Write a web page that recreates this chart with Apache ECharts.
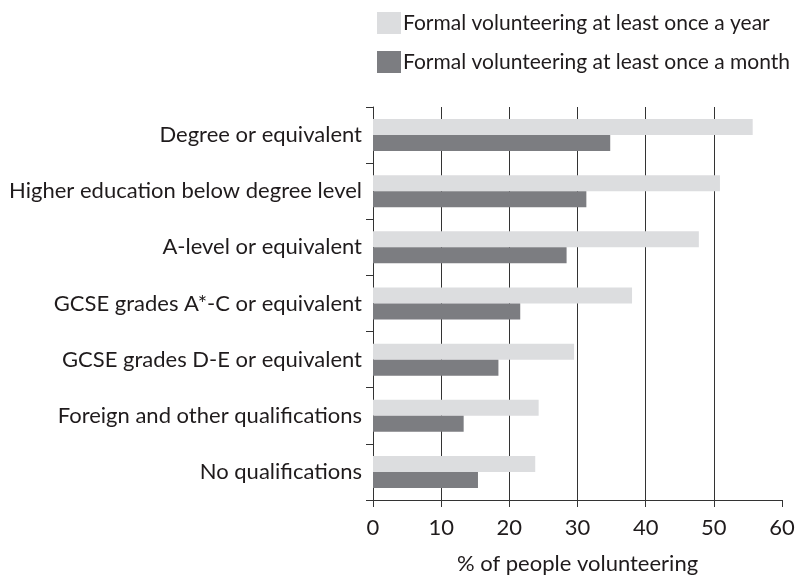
<!DOCTYPE html>
<html>
<head>
<meta charset="utf-8">
<script src="https://cdn.jsdelivr.net/npm/echarts@6/dist/echarts.min.js"></script>
<style>
  html, body { margin: 0; padding: 0; background: #fff; }
  #main { width: 800px; height: 580px; }
</style>
</head>
<body>
<div id="main"></div>
<script>
"use strict"

// categories, top to bottom
var categories = [
    'Degree or equivalent',
    'Higher education below degree level',
    'A-level or equivalent',
    'GCSE grades A*-C or equivalent',
    'GCSE grades D-E or equivalent',
    'Foreign and other qualifications',
    'No qualifications'
];
var seriesNames = [
    'Formal volunteering at least once a year',
    'Formal volunteering at least once a month'
];
var yearly = [55.7, 50.9, 47.8, 38.0, 29.5, 24.3, 23.8];
var monthly = [34.8, 31.3, 28.4, 21.6, 18.4, 13.3, 15.4];

var axisColor = '#333';
var textColor = '#1f1b1c';
var font = 'Lato';

var chart = echarts.init(document.getElementById('main'));

var option = {
    animation: false,
    textStyle: { fontFamily: font, color: textColor },
    legend: {
        orient: 'vertical',
        left: 372,
        top: 7,
        itemWidth: 24,
        itemHeight: 22,
        itemGap: 17,
        icon: 'rect',
        data: seriesNames,
        textStyle: { fontSize: 21, color: textColor, fontFamily: font, padding: [0, 0, 0, -3] }
    },
    grid: {
        left: 373,
        right: 18,
        top: 107,
        bottom: 75,
        containLabel: false
    },
    xAxis: {
        type: 'value',
        min: 0,
        max: 60,
        interval: 10,
        name: '% of people volunteering',
        nameLocation: 'middle',
        nameGap: 53,
        nameTextStyle: { fontSize: 22, color: textColor, fontFamily: font },
        axisLine: { show: true, lineStyle: { color: axisColor, width: 1 } },
        axisTick: { show: true, inside: false, length: 7, lineStyle: { color: axisColor } },
        axisLabel: { fontSize: 22, color: textColor, margin: 17, fontFamily: font },
        splitLine: {
            show: true,
            showMinLine: false,
            showMaxLine: false,
            lineStyle: { color: axisColor, width: 1 }
        }
    },
    yAxis: {
        type: 'category',
        inverse: true,
        data: categories,
        axisLine: { show: true, lineStyle: { color: axisColor, width: 1 } },
        axisTick: { show: true, length: 7, lineStyle: { color: axisColor } },
        axisLabel: { fontSize: 22, color: textColor, margin: 11, fontFamily: font }
    },
    series: [
        {
            name: seriesNames[0],
            type: 'bar',
            data: yearly,
            barGap: '0%',
            barCategoryGap: '43%',
            itemStyle: { color: '#dcdddf' }
        },
        {
            name: seriesNames[1],
            type: 'bar',
            data: monthly,
            itemStyle: { color: '#7c7d81' }
        }
    ]
};

chart.setOption(option);
</script>
</body>
</html>
